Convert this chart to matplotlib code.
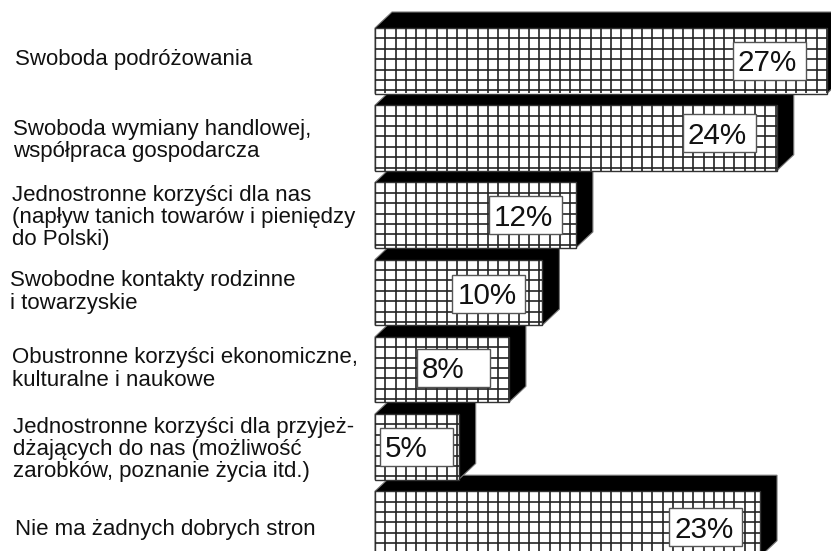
import matplotlib
matplotlib.use("Agg")
import matplotlib.pyplot as plt
import numpy as np
from matplotlib.patches import Polygon, Rectangle

plt.rcParams['font.family'] = ['Liberation Sans', 'DejaVu Sans']

categories = ["Swoboda podróżowania",
              "Swoboda wymiany handlowej,\nwspółpraca gospodarcza",
              "Jednostronne korzyści dla nas\n(napływ tanich towarów i pieniędzy\ndo Polski)",
              "Swobodne kontakty rodzinne\ni towarzyskie",
              "Obustronne korzyści ekonomiczne,\nkulturalne i naukowe",
              "Jednostronne korzyści dla przyjeż-\ndżających do nas (możliwość\nzarobków, poznanie życia itd.)",
              "Nie ma żadnych dobrych stron"]
values = [27, 24, 12, 10, 8, 5, 23]
value_labels = ["27%", "24%", "12%", "10%", "8%", "5%", "23%"]

# layout in pixels
W, H = 831, 551
x0, px_per_pct = 375, 16.74
y0, pitch, bar_h = 60.75, 77.2, 65.5
depth_x, depth_y = 17, 16
cell_w, cell_h = 10.27, 10.4
box_w, box_h = 73, 38
box_gaps = [21, 21, 14, 17, 19, 6, 18]      # box right edge to bar end
box_dy = [14, 9, 14, 15, 12, 14, 17]        # bar top to box top
label_x = [15, 13, 12, 10, 12, 13, 15]
label_y = [59, 140.5, 217.5, 292, 369, 449.5, 529]

fig = plt.figure(figsize=(W/100, H/100), dpi=100)
ax = fig.add_axes([0, 0, 1, 1])
ax.set_xlim(-x0/px_per_pct, (W-x0)/px_per_pct)
ax.set_ylim((H-y0)/pitch, -y0/pitch)
ax.axis('off')

ux, uy = 1/px_per_pct, 1/pitch
h = bar_h*uy
dx, dy = depth_x*ux, depth_y*uy

for i, v in enumerate(values):
    z = 10*(len(values)-i)
    top, bot = i-h/2, i+h/2
    # black top and side of the 3d block
    ax.add_patch(Polygon([(0, top), (dx, top-dy), (v+dx, top-dy), (v+dx, bot-dy), (v, bot), (0, bot)],
                         closed=True, fc='black', ec='#777777', lw=0.8, zorder=z))
    front = ax.barh(i, v, height=h, color='white', edgecolor='#333333', linewidth=1.0, zorder=z+1)[0]
    xs = np.arange(cell_w*ux, v, cell_w*ux)
    ys = np.arange(top+cell_h*uy, bot, cell_h*uy)
    vl = ax.vlines(xs, top, bot, color='#222222', lw=1.2, zorder=z+2)
    hl = ax.hlines(ys, 0, v, color='#222222', lw=1.2, zorder=z+2)
    vl.set_clip_path(front)
    hl.set_clip_path(front)
    bx = v-(box_gaps[i]+box_w)*ux
    by = top+box_dy[i]*uy
    ax.add_patch(Rectangle((bx, by), box_w*ux, box_h*uy, fc='white', ec='#555555', lw=1.0, zorder=z+3))
    ax.text(bx+5*ux, by+box_h*uy/2+2.5*uy, value_labels[i], fontsize=21.3, color='#111111',
            ha='left', va='center', zorder=z+4)

for i, cat in enumerate(categories):
    fig.text(label_x[i]/W, 1-label_y[i]/H, cat, fontsize=16, color='#111111',
             ha='left', va='center', linespacing=1.09)

fig.savefig("out.png", dpi=100)
